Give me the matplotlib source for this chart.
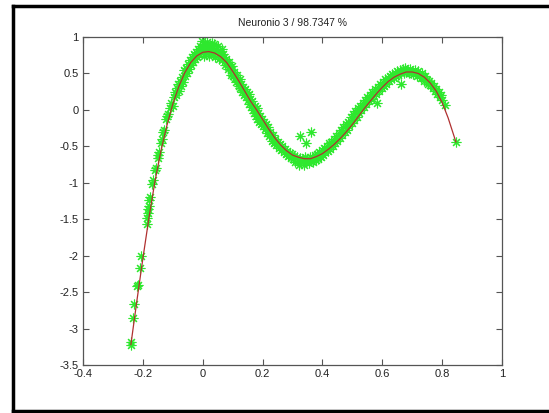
import matplotlib
matplotlib.use("Agg")
import matplotlib.pyplot as plt
from matplotlib.lines import Line2D

plt.rcParams['font.family'] = ['Liberation Sans', 'DejaVu Sans']

# fitted curve (red line)
line_x = [-0.24, -0.22, -0.20, -0.18, -0.16, -0.14, -0.12, -0.10, -0.08, -0.06,
          -0.04, -0.02, 0.00, 0.02, 0.04, 0.06, 0.08, 0.10, 0.12, 0.14,
          0.16, 0.18, 0.20, 0.22, 0.24, 0.26, 0.28, 0.30, 0.32, 0.34,
          0.36, 0.38, 0.40, 0.42, 0.44, 0.46, 0.48, 0.50, 0.52, 0.54,
          0.56, 0.58, 0.60, 0.62, 0.64, 0.66, 0.68, 0.70, 0.72, 0.74,
          0.76, 0.78, 0.80, 0.82, 0.846]
line_y = [-3.22, -2.62, -2.04, -1.49, -0.99, -0.57, -0.22, 0.08, 0.32, 0.51,
          0.65, 0.74, 0.79, 0.80, 0.78, 0.73, 0.65, 0.53, 0.40, 0.26,
          0.12, 0.00, -0.13, -0.26, -0.38, -0.48, -0.56, -0.62, -0.65, -0.67,
          -0.67, -0.64, -0.60, -0.54, -0.47, -0.39, -0.30, -0.20, -0.09, 0.02,
          0.12, 0.22, 0.31, 0.39, 0.45, 0.49, 0.52, 0.52, 0.50, 0.45,
          0.37, 0.26, 0.10, -0.11, -0.44]

# measured samples (green asterisks)
pts_x = [-0.241, -0.238, -0.234, -0.229, -0.218, -0.216, -0.209, -0.207, -0.186, -0.185,
         -0.184, -0.183, -0.181, -0.178, -0.176, -0.168, -0.166, -0.158, -0.155, -0.150,
         -0.148, -0.146, -0.140, -0.137, -0.133, -0.130, -0.124, -0.121, -0.116,
         -0.110, -0.105, -0.100, -0.097, -0.093, -0.090, -0.087, -0.083, -0.080, -0.077,
         -0.073, -0.070, -0.067, -0.063, -0.060, -0.057, -0.053, -0.050, -0.047, -0.043,
         -0.040, -0.037, -0.033, -0.030, -0.027, -0.023, -0.020, -0.017, -0.013, -0.010,
         -0.007, -0.003, 0.000, 0.003, 0.006, 0.009, 0.012, 0.015, 0.018, 0.021,
         0.024, 0.027, 0.030, 0.033, 0.036, 0.039, 0.042, 0.045, 0.048, 0.051,
         0.054, 0.057, 0.060, 0.063, 0.066, 0.069, 0.072, 0.075, 0.078, 0.081,
         0.084, 0.087, 0.090, 0.093, 0.096, 0.099, 0.102, 0.105, 0.108, 0.111,
         0.114, 0.117, 0.120, 0.123, 0.126, 0.129, 0.132, 0.135, 0.138, 0.141,
         0.144, 0.147, 0.150, 0.153, 0.156, 0.159, 0.162, 0.165, 0.168, 0.171,
         0.174, 0.177, 0.180, 0.183, 0.186, 0.189, 0.192, 0.195, 0.198, 0.201,
         0.204, 0.207, 0.210, 0.214, 0.218, 0.222, 0.226, 0.230, 0.234, 0.238,
         0.242, 0.246, 0.250, 0.254, 0.258, 0.262, 0.266, 0.270, 0.274, 0.278,
         0.282, 0.286, 0.290, 0.294, 0.298, 0.302, 0.306, 0.310, 0.314, 0.318,
         0.322, 0.326, 0.325, 0.330, 0.334, 0.338, 0.342, 0.345, 0.346, 0.350,
         0.354, 0.358, 0.361, 0.362, 0.366, 0.370, 0.374, 0.378, 0.382, 0.386,
         0.390, 0.394, 0.398, 0.402, 0.406, 0.410, 0.414, 0.418, 0.422, 0.426,
         0.430, 0.434, 0.438, 0.442, 0.446, 0.450, 0.454, 0.458, 0.462, 0.466,
         0.470, 0.474, 0.478, 0.482, 0.486, 0.490, 0.494, 0.498, 0.502, 0.506,
         0.510, 0.514, 0.518, 0.522, 0.526, 0.530, 0.534, 0.538, 0.542, 0.546,
         0.550, 0.554, 0.558, 0.562, 0.566, 0.570, 0.574, 0.578, 0.582, 0.586,
         0.590, 0.594, 0.598, 0.602, 0.606, 0.610, 0.614, 0.618, 0.622, 0.626,
         0.630, 0.634, 0.638, 0.642, 0.646, 0.650, 0.654, 0.658, 0.661, 0.664,
         0.668, 0.672, 0.676, 0.680, 0.684, 0.688, 0.692, 0.696, 0.700, 0.704,
         0.708, 0.712, 0.716, 0.720, 0.724, 0.728, 0.732, 0.736, 0.740, 0.744,
         0.748, 0.752, 0.756, 0.760, 0.764, 0.768, 0.772, 0.776, 0.780, 0.784,
         0.788, 0.792, 0.796, 0.800, 0.808, 0.846]
pts_y = [-3.22, -3.18, -2.86, -2.66, -2.42, -2.40, -2.17, -2.01, -1.56, -1.48,
         -1.42, -1.36, -1.32, -1.24, -1.20, -1.02, -0.96, -0.82, -0.80, -0.66,
         -0.62, -0.58, -0.46, -0.40, -0.30, -0.27, -0.12, -0.08, -0.06,
         0.02, 0.10, 0.05, 0.18, 0.25, 0.20, 0.30, 0.36, 0.26, 0.40,
         0.33, 0.45, 0.38, 0.55, 0.46, 0.58, 0.50, 0.63, 0.56, 0.68,
         0.62, 0.73, 0.66, 0.76, 0.70, 0.80, 0.72, 0.84, 0.76, 0.88,
         0.79, 0.95, 0.82, 0.74, 0.90, 0.86, 0.78, 0.93, 0.84, 0.74,
         0.88, 0.81, 0.92, 0.76, 0.85, 0.90, 0.73, 0.84, 0.79, 0.88,
         0.70, 0.80, 0.74, 0.84, 0.68, 0.76, 0.72, 0.62, 0.70, 0.64,
         0.56, 0.66, 0.59, 0.48, 0.55, 0.60, 0.46, 0.52, 0.44, 0.38,
         0.48, 0.40, 0.33, 0.42, 0.30, 0.36, 0.25, 0.32, 0.20, 0.28,
         0.18, 0.24, 0.14, 0.22, 0.08, 0.15, 0.04, 0.12, 0.00, -0.04,
         0.06, -0.08, 0.02, -0.12, -0.04, -0.16, -0.08, -0.20, -0.12, -0.22,
         -0.16, -0.26, -0.20, -0.32, -0.24, -0.36, -0.30, -0.42, -0.35, -0.46,
         -0.40, -0.48, -0.44, -0.52, -0.47, -0.55, -0.50, -0.58, -0.54, -0.60,
         -0.56, -0.63, -0.59, -0.66, -0.61, -0.68, -0.63, -0.72, -0.65, -0.70,
         -0.75, -0.66, -0.36, -0.72, -0.68, -0.76, -0.65, -0.46, -0.71, -0.67,
         -0.73, -0.64, -0.30, -0.70, -0.66, -0.72, -0.62, -0.69, -0.60, -0.67,
         -0.58, -0.64, -0.55, -0.62, -0.52, -0.58, -0.50, -0.56, -0.46, -0.53,
         -0.44, -0.50, -0.40, -0.46, -0.36, -0.42, -0.32, -0.38, -0.28, -0.34,
         -0.24, -0.30, -0.20, -0.27, -0.16, -0.22, -0.10, -0.18, -0.06, -0.14,
         -0.02, -0.10, 0.02, -0.04, 0.06, 0.00, 0.10, 0.04, 0.14, 0.08,
         0.18, 0.12, 0.21, 0.15, 0.25, 0.19, 0.28, 0.22, 0.09, 0.31,
         0.26, 0.36, 0.30, 0.38, 0.33, 0.42, 0.36, 0.44, 0.39, 0.47,
         0.42, 0.49, 0.44, 0.51, 0.46, 0.53, 0.48, 0.55, 0.36, 0.50,
         0.56, 0.51, 0.57, 0.52, 0.55, 0.50, 0.56, 0.51, 0.54, 0.49,
         0.55, 0.50, 0.47, 0.53, 0.48, 0.44, 0.50, 0.45, 0.40, 0.46,
         0.41, 0.36, 0.40, 0.34, 0.37, 0.30, 0.33, 0.26, 0.28, 0.22,
         0.24, 0.18, 0.20, 0.14, 0.07, -0.44]

x_ticks = [-0.4, -0.2, 0, 0.2, 0.4, 0.6, 0.8, 1]
y_ticks = [-3.5, -3, -2.5, -2, -1.5, -1, -0.5, 0, 0.5, 1]

fig = plt.figure(figsize=(5.49, 4.13), dpi=100)
ax = fig.add_axes([83 / 549, 48 / 413, 419 / 549, 328 / 413])

ax.plot(pts_x, pts_y, linestyle='none', marker=(8, 2, 0), markersize=7,
        markeredgewidth=0.8, color='#2ee82e')
ax.plot(line_x, line_y, color='#b03030', linewidth=0.9)

ax.set_xlim(-0.4, 1)
ax.set_ylim(-3.5, 1)
ax.set_xticks(x_ticks)
ax.set_xticklabels(['-0.4', '-0.2', '0', '0.2', '0.4', '0.6', '0.8', '1'])
ax.set_yticks(y_ticks)
ax.set_yticklabels(['-3.5', '-3', '-2.5', '-2', '-1.5', '-1', '-0.5', '0', '0.5', '1'])
ax.tick_params(direction='in', length=4, width=0.8, colors='#555555',
               labelcolor='#222222', labelsize=8, top=True, right=True, pad=3)
for s in ax.spines.values():
    s.set_color('#555555')
    s.set_linewidth(0.9)
ax.set_title('Neuronio 3 / 98.7347 %', fontsize=7.5, color='#222222', pad=8)

# outer black frame: left, top and bottom edges only
top = 1 - 5.5 / 413
bot = 1 - 410.5 / 413
left = 12.5 / 549
for xs, ys in [([left, left], [bot, top]), ([left, 1.0], [top, top]), ([left, 1.0], [bot, bot])]:
    fig.add_artist(Line2D(xs, ys, transform=fig.transFigure, color='black',
                          linewidth=2.5, solid_capstyle='projecting'))

fig.savefig('out.png', dpi=100)
